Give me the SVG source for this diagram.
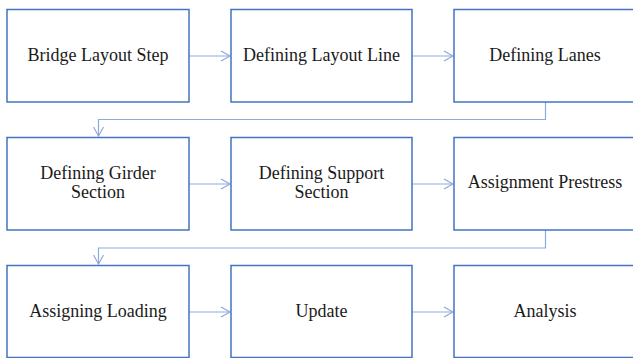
<svg xmlns="http://www.w3.org/2000/svg" width="633" height="358" viewBox="0 0 633 358">
<style>
.box{fill:#fff;stroke:#4472C4;stroke-width:1.5}
.lbl{font-family:'Times New Roman',Tinos,serif;font-size:18px;fill:#1a1a1a;text-anchor:middle}
.con{fill:none;stroke:#8EA9DB;stroke-width:1.2}
</style>
<defs>
<marker id="ah" markerWidth="12" markerHeight="12" refX="10" refY="6" orient="auto" markerUnits="userSpaceOnUse">
<path d="M1,1 L10,6 L1,11" fill="none" stroke="#8EA9DB" stroke-width="1.2"/>
</marker>
</defs>
<rect width="633" height="358" fill="#fff"/>
<g id="connectors">
<line class="con" x1="189" y1="56" x2="230" y2="56" marker-end="url(#ah)"/>
<line class="con" x1="412" y1="56" x2="453" y2="56" marker-end="url(#ah)"/>
<polyline class="con" points="545.5,102 545.5,119.5 98.5,119.5 98.5,136" marker-end="url(#ah)"/>
<line class="con" x1="189" y1="184" x2="230" y2="184" marker-end="url(#ah)"/>
<line class="con" x1="412" y1="184" x2="453" y2="184" marker-end="url(#ah)"/>
<polyline class="con" points="545.5,230 545.5,248 98.5,248 98.5,264" marker-end="url(#ah)"/>
<line class="con" x1="189" y1="312" x2="230" y2="312" marker-end="url(#ah)"/>
<line class="con" x1="412" y1="312" x2="453" y2="312" marker-end="url(#ah)"/>
</g>
<g id="n1"><rect class="box" x="7" y="9.5" width="182" height="92.5"/><text class="lbl" x="98" y="61">Bridge Layout Step</text></g>
<g id="n2"><rect class="box" x="231" y="9.5" width="181" height="92.5"/><text class="lbl" x="321.5" y="61">Defining Layout Line</text></g>
<g id="n3"><rect class="box" x="454" y="9.5" width="182" height="92.5"/><text class="lbl" x="545" y="61">Defining Lanes</text></g>
<g id="n4"><rect class="box" x="7" y="137.5" width="182" height="92.5"/><text class="lbl" x="98" y="179">Defining Girder</text><text class="lbl" x="98" y="198">Section</text></g>
<g id="n5"><rect class="box" x="231" y="137.5" width="181" height="92.5"/><text class="lbl" x="321.5" y="179">Defining Support</text><text class="lbl" x="321.5" y="198">Section</text></g>
<g id="n6"><rect class="box" x="454" y="137.5" width="182" height="92.5"/><text class="lbl" x="545" y="188">Assignment Prestress</text></g>
<g id="n7"><rect class="box" x="7" y="265.5" width="182" height="92"/><text class="lbl" x="98" y="317">Assigning Loading</text></g>
<g id="n8"><rect class="box" x="231" y="265.5" width="181" height="92"/><text class="lbl" x="321.5" y="317">Update</text></g>
<g id="n9"><rect class="box" x="454" y="265.5" width="182" height="92"/><text class="lbl" x="545" y="317">Analysis</text></g>
</svg>
